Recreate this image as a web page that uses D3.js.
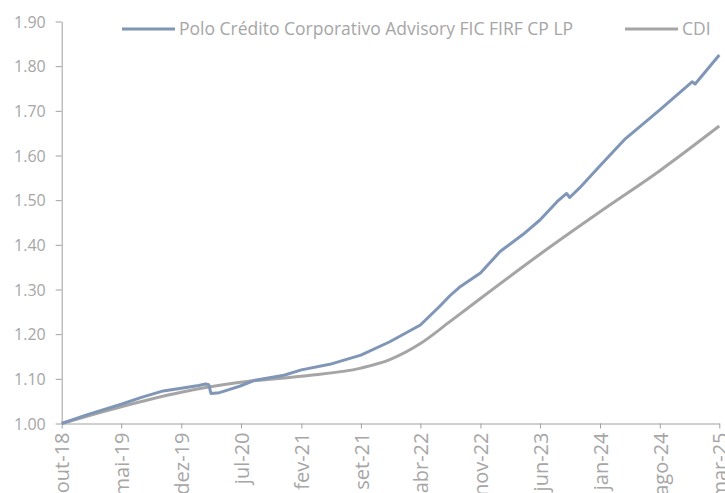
<!DOCTYPE html>
<html>
<head>
<meta charset="utf-8">
<script src="https://cdnjs.cloudflare.com/ajax/libs/d3/7.8.5/d3.min.js"></script>
<style>
  body { margin: 0; background: #fff; }
  text { font-family: "Open Sans", "Noto Sans", sans-serif; fill: #a6a6a6; }
</style>
</head>
<body>
<div id="container"></div>
<script>
// fund series (blue)
const fundDates = ["2018-10-01", "2019-01-01", "2019-05-01", "2019-07-15", "2019-09-28", "2019-12-01",
    "2020-02-01", "2020-02-26", "2020-03-08", "2020-03-16", "2020-04-15", "2020-05-22", "2020-06-28",
    "2020-08-20", "2020-12-01", "2021-02-01", "2021-05-13", "2021-09-01", "2021-12-13", "2022-04-01",
    "2022-06-10", "2022-07-15", "2022-08-18", "2022-11-01", "2023-01-10", "2023-04-01", "2023-06-01",
    "2023-08-01", "2023-09-04", "2023-09-15", "2023-10-21", "2024-01-01", "2024-04-01", "2024-08-01",
    "2024-11-24", "2024-12-05", "2025-03-01"]
const fundValues = [1.000, 1.020, 1.043, 1.059, 1.073, 1.079,
    1.085, 1.0885, 1.087, 1.067, 1.069, 1.0765, 1.084,
    1.097, 1.108, 1.120, 1.1325, 1.153, 1.183, 1.2205,
    1.263, 1.286, 1.305, 1.337, 1.385, 1.423, 1.4556,
    1.4966, 1.515, 1.506, 1.528, 1.577, 1.638, 1.702,
    1.765, 1.760, 1.825]

// CDI series (grey)
const cdiDates = ["2018-10-01", "2019-05-01", "2019-12-01", "2020-06-15", "2021-02-01", "2021-09-01",
    "2021-12-13", "2022-04-01", "2022-07-15", "2022-11-01", "2023-06-01", "2024-01-01", "2024-08-01",
    "2025-03-01"]
const cdiValues = [1.000, 1.0376, 1.070, 1.091, 1.106, 1.124,
    1.143, 1.179, 1.228, 1.280, 1.379, 1.474, 1.566,
    1.666]

const seriesNames = ["Polo Crédito Corporativo Advisory FIC FIRF CP LP", "CDI"]
const seriesColors = ["#7f96b6", "#a5a5a5"]

const tickDates = ["2018-10-01", "2019-05-01", "2019-12-01", "2020-07-01", "2021-02-01", "2021-09-01",
    "2022-04-01", "2022-11-01", "2023-06-01", "2024-01-01", "2024-08-01", "2025-03-01"]
const tickLabels = ["out-18", "mai-19", "dez-19", "jul-20", "fev-21", "set-21",
    "abr-22", "nov-22", "jun-23", "jan-24", "ago-24", "mar-25"]
const yTicks = [1.0, 1.1, 1.2, 1.3, 1.4, 1.5, 1.6, 1.7, 1.8, 1.9]

const W = 725, H = 493
const margin = {left: 61.7, right: 5.7, top: 21.5, bottom: 69.5}

const parse = d3.timeParse("%Y-%m-%d")

const svg = d3.select("#container")
    .append("svg")
    .attr("width", W)
    .attr("height", H)

const x = d3.scaleTime()
    .domain([parse(tickDates[0]), parse(tickDates[tickDates.length - 1])])
    .range([margin.left, W - margin.right])

const y = d3.scaleLinear()
    .domain([1.0, 1.9])
    .range([H - margin.bottom, margin.top])

// y axis
const yAxis = svg.append("g")
    .attr("transform", `translate(${margin.left},0)`)
    .call(d3.axisLeft(y).tickValues(yTicks).tickFormat(d3.format(".2f")).tickSize(6).tickSizeOuter(0))
yAxis.select(".domain").attr("stroke", "#a0a0a0")
yAxis.selectAll(".tick line").attr("stroke", "#a0a0a0")
yAxis.selectAll("text")
    .attr("x", -16)
    .attr("dy", "0.36em")
    .style("font-size", "16px")
    .style("fill", "#a6a6a6")

// x axis
const xAxis = svg.append("g")
    .attr("transform", `translate(0,${H - margin.bottom})`)
    .call(d3.axisBottom(x)
        .tickValues(tickDates.map(parse))
        .tickFormat((d, i) => tickLabels[i])
        .tickSize(5).tickSizeOuter(0))
xAxis.select(".domain").attr("stroke", "#a0a0a0")
xAxis.selectAll(".tick line").attr("stroke", "#a0a0a0")
xAxis.selectAll("text")
    .attr("transform", "rotate(-90)")
    .attr("x", -9)
    .attr("y", 0)
    .attr("dy", "0.36em")
    .attr("text-anchor", "end")
    .style("font-size", "20px")
    .style("fill", "#a6a6a6")

const line = d3.line()
    .x(d => x(d.date))
    .y(d => y(d.value))

const cdi = cdiDates.map((d, i) => ({date: parse(d), value: cdiValues[i]}))
const fund = fundDates.map((d, i) => ({date: parse(d), value: fundValues[i]}))

svg.append("path")
    .datum(cdi)
    .attr("fill", "none")
    .attr("stroke", seriesColors[1])
    .attr("stroke-width", 3)
    .attr("d", line.curve(d3.curveMonotoneX))

svg.append("path")
    .datum(fund)
    .attr("fill", "none")
    .attr("stroke", seriesColors[0])
    .attr("stroke-width", 3)
    .attr("stroke-linejoin", "round")
    .attr("d", line.curve(d3.curveLinear))

// legend
const legendX = [122, 625]
const legend = svg.selectAll(".legend")
    .data(seriesNames)
    .enter()
    .append("g")
    .attr("class", "legend")
    .attr("transform", (d, i) => `translate(${legendX[i]},29)`)

legend.append("line")
    .attr("x1", 0).attr("x2", 53)
    .attr("stroke", (d, i) => seriesColors[i])
    .attr("stroke-width", 3)

legend.append("text")
    .attr("x", 57)
    .attr("dy", "0.35em")
    .style("font-size", "17.5px")
    .text(d => d)
</script>
</body>
</html>
